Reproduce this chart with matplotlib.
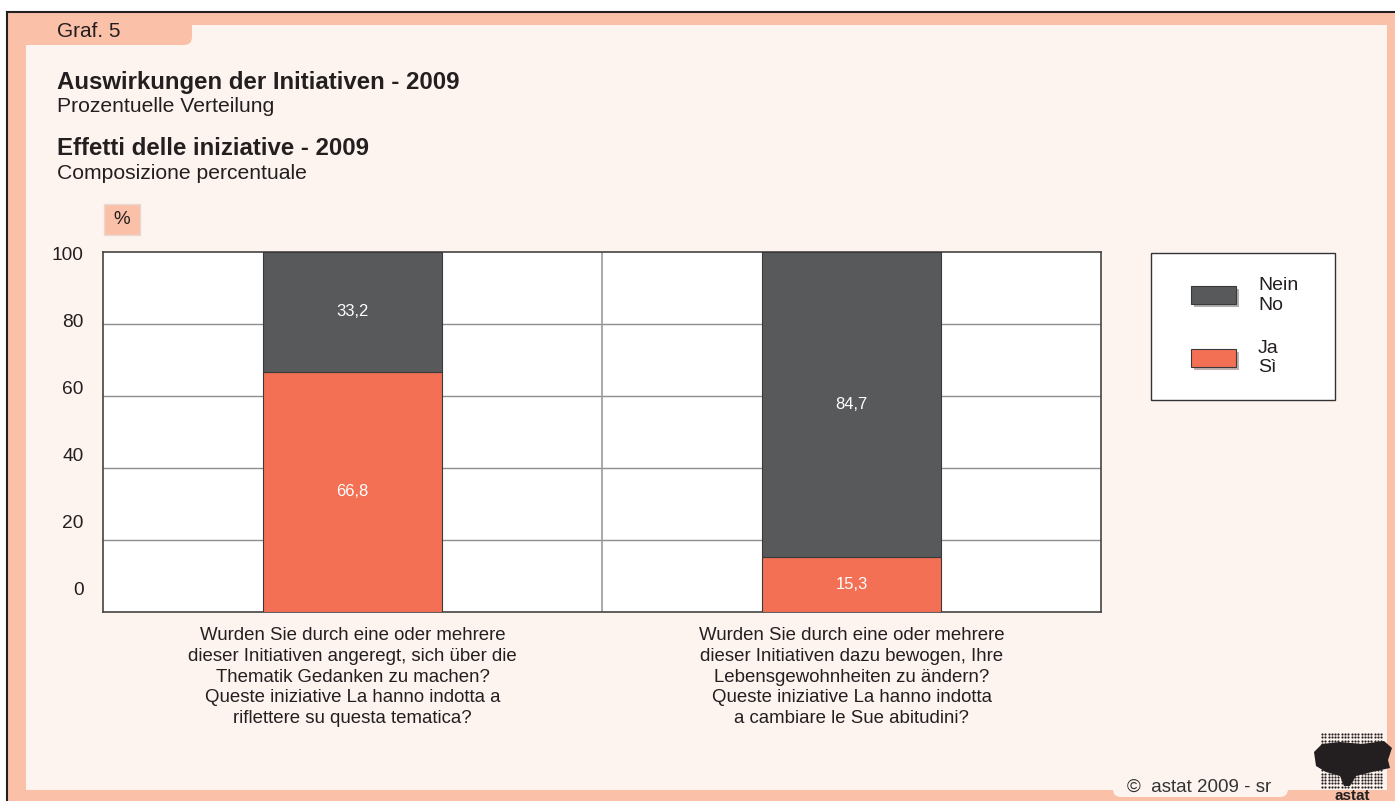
import numpy as np
import matplotlib
matplotlib.use('Agg')
from matplotlib import pyplot as plt
from matplotlib.patches import Rectangle, FancyBboxPatch, Polygon
from matplotlib import patheffects as pe

# data
questions = [
    'Wurden Sie durch eine oder mehrere\ndieser Initiativen angeregt, sich über die\nThematik Gedanken zu machen?\nQueste iniziative La hanno indotta a\nriflettere su questa tematica?',
    'Wurden Sie durch eine oder mehrere\ndieser Initiativen dazu bewogen, Ihre\nLebensgewohnheiten zu ändern?\nQueste iniziative La hanno indotta\na cambiare le Sue abitudini?',
]
ja_si = [66.8, 15.3]
nein_no = [33.2, 84.7]
series_labels = ['Nein\nNo', 'Ja\nSì']
ytick_labels = ['0', '20', '40', '60', '80', '100']

W, H = 1395, 801
salmon = '#FBC0A8'
panel = '#FEF4EF'
dark = '#58595B'
orange = '#F37055'
txt = '#231F20'

plt.rcParams['font.family'] = ['Liberation Sans', 'DejaVu Sans']

fig = plt.figure(figsize=(W / 100, H / 100), dpi=100, facecolor='white')

# background in pixel coords
bg = fig.add_axes([0, 0, 1, 1], zorder=-1)
bg.set_xlim(0, W)
bg.set_ylim(H, 0)
bg.axis('off')
bg.add_patch(Rectangle((7, 12), W - 7, H - 12, facecolor=salmon, edgecolor='none'))
bg.plot([7, W], [12, 12], color=txt, lw=1.5)
bg.plot([7, 7], [12, H], color=txt, lw=1.5)
bg.add_patch(Rectangle((26, 25), 1387 - 26, 790 - 25, facecolor=panel, edgecolor='none'))
bg.add_patch(FancyBboxPatch((10, 16), 182, 29, boxstyle='round,pad=0,rounding_size=8',
                            facecolor=salmon, edgecolor='none'))
bg.add_patch(FancyBboxPatch((1113, 770), 175, 27, boxstyle='round,pad=0,rounding_size=8',
                            facecolor=panel, edgecolor='none'))

bg.text(57, 37, 'Graf. 5', fontsize=15, color=txt, va='baseline')
bg.text(57, 89, 'Auswirkungen der Initiativen - 2009', fontsize=17.3, fontweight='bold', color=txt, va='baseline')
bg.text(57, 112, 'Prozentuelle Verteilung', fontsize=15.2, color=txt, va='baseline')
bg.text(57, 155, 'Effetti delle iniziative - 2009', fontsize=17.3, fontweight='bold', color=txt, va='baseline')
bg.text(57, 179, 'Composizione percentuale', fontsize=15.2, color=txt, va='baseline')

bg.add_patch(Rectangle((104, 204), 36, 31, facecolor=salmon, edgecolor='#E8D8D0', lw=1))
bg.text(122, 220, '%', fontsize=13.5, color=txt, ha='center', va='center')

bg.text(1127, 792, '©  astat 2009 - sr', fontsize=13.5, color='#333333', va='baseline')

# legend frame
bg.add_patch(Rectangle((1151, 253), 184, 147, facecolor='white', edgecolor='#333333', lw=1))

# logo (dotted block + name)
gx, gy = np.meshgrid(np.arange(1322, 1384, 3.3), np.arange(734, 788, 3.3))
bg.scatter(gx.ravel(), gy.ravel(), s=2.5, color=txt, marker='o', linewidths=0)
blob = [(1314, 752), (1322, 744), (1340, 742), (1362, 744), (1384, 741), (1392, 748),
        (1388, 760), (1390, 768), (1372, 772), (1356, 776), (1350, 786), (1344, 786),
        (1340, 776), (1326, 772), (1316, 766)]
bg.add_patch(Polygon(blob, closed=True, facecolor=txt, edgecolor='none'))
bg.text(1352, 800, 'astat', fontsize=11, fontweight='bold', color=txt, ha='center', va='baseline')

# main chart
ax = fig.add_axes([103 / W, (H - 612) / H, 998 / W, 360 / H], zorder=1)
ax.set_facecolor('white')
x = np.arange(len(questions))
bw = 0.36
b_ja = ax.bar(x, ja_si, bw, color=orange, edgecolor='#3A3A3A', lw=0.8, zorder=3, label=series_labels[1])
b_nein = ax.bar(x, nein_no, bw, bottom=ja_si, color=dark, edgecolor='#3A3A3A', lw=0.8, zorder=3,
                label=series_labels[0])
for bars, vals in [(b_ja, ja_si), (b_nein, nein_no)]:
    ax.bar_label(bars, labels=[f'{v:.1f}'.replace('.', ',') for v in vals], label_type='center',
                 color='white', fontsize=12)

ax.set_xlim(-0.5, len(questions) - 0.5)
ax.set_ylim(0, 100)
for yv in [20, 40, 60, 80]:
    ax.axhline(yv, color='#8E8E8E', lw=1, zorder=1)
ax.axvline(0.5, color='#9A9A9A', lw=1.2, zorder=1)

# tick labels sit slightly compressed towards the top, as in the original
ax.set_yticks(np.linspace(6.4, 99.6, len(ytick_labels)))
ax.set_yticklabels(ytick_labels, fontsize=13.8, color=txt)
ax.tick_params(axis='y', length=0, pad=14)
ax.set_xticks(x)
ax.set_xticklabels(questions, fontsize=13.4, color=txt, linespacing=1.28)
ax.tick_params(axis='x', length=0, pad=11)
for s in ax.spines.values():
    s.set_color('#444444')
    s.set_linewidth(1.2)

handles = [b_nein, b_ja]
leg = fig.legend(handles, series_labels, loc='upper left', bbox_to_anchor=(1191 / W, 1 - 277 / H),
                 frameon=False, fontsize=14, handlelength=2.3, handleheight=1.05,
                 handletextpad=1.15, labelspacing=1.35, borderpad=0, borderaxespad=0)
for t in leg.get_texts():
    t.set_color(txt)
    t.set_linespacing(1.2)
for h in leg.legend_handles:
    h.set_path_effects([pe.SimplePatchShadow(offset=(2, -2), alpha=0.35), pe.Normal()])

fig.savefig('out.png', dpi=100, facecolor=fig.get_facecolor())
